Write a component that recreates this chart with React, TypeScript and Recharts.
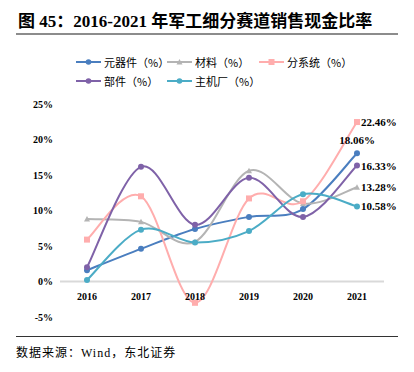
import React from "react";
import { LineChart, Line, XAxis, YAxis, ReferenceLine, LabelList } from "recharts";

const years = ["2016", "2017", "2018", "2019", "2020", "2021"];
const yTicks = [-5, 0, 5, 10, 15, 20, 25];

const components = [1.6, 4.6, 7.4, 9.1, 10.2, 18.06];
const materials = [8.8, 8.4, 5.6, 15.6, 11.0, 13.28];
const subsystems = [5.9, 12.0, -3.0, 11.7, 11.3, 22.46];
const parts = [2.0, 16.15, 8.0, 14.6, 9.1, 16.33];
const oems = [0.2, 7.3, 5.5, 7.1, 12.3, 10.58];

const series = [
  { key: "components", name: "元器件（%）", color: "#4a7ebf", shape: "circle", values: components, labelPos: "top" },
  { key: "materials", name: "材料（%）", color: "#b4b4b4", shape: "triangle", values: materials, labelPos: "right" },
  { key: "subsystems", name: "分系统（%）", color: "#ffadad", shape: "square", values: subsystems, labelPos: "right" },
  { key: "parts", name: "部件（%）", color: "#7f62a8", shape: "circle", values: parts, labelPos: "right" },
  { key: "oems", name: "主机厂（%）", color: "#4bacc6", shape: "circle", values: oems, labelPos: "right" },
];

const data = years.map((year, i) => {
  const row: Record<string, string | number> = { year };
  series.forEach((s) => {
    row[s.key] = s.values[i];
  });
  return row;
});

// excel style smoothed line (catmull-rom bezier)
const smooth = (context: any) => {
  let pts: [number, number][] = [];
  return {
    areaStart() {},
    areaEnd() {},
    lineStart() {
      pts = [];
    },
    lineEnd() {
      if (!pts.length) return;
      context.moveTo(pts[0][0], pts[0][1]);
      for (let i = 0; i < pts.length - 1; i++) {
        const p0 = pts[i - 1] || pts[i];
        const p1 = pts[i];
        const p2 = pts[i + 1];
        const p3 = pts[i + 2] || p2;
        context.bezierCurveTo(
          p1[0] + (p2[0] - p0[0]) / 6,
          p1[1] + (p2[1] - p0[1]) / 6,
          p2[0] - (p3[0] - p1[0]) / 6,
          p2[1] - (p3[1] - p1[1]) / 6,
          p2[0],
          p2[1]
        );
      }
    },
    point(x: number, y: number) {
      pts.push([x, y]);
    },
  };
};

const serif = '"Liberation Serif", "Noto Sans CJK SC", serif';
const cjk = '"Noto Sans CJK SC", "Liberation Serif", sans-serif';

const makeDot = (shape: string, color: string) => (props: any) => {
  const { cx, cy, index } = props;
  if (cx == null || cy == null) return <g key={index} />;
  if (shape === "square") {
    return <rect key={index} x={cx - 3} y={cy - 3} width={6} height={6} fill={color} />;
  }
  if (shape === "triangle") {
    return (
      <path key={index} d={`M${cx},${cy - 3}L${cx + 3},${cy + 2.5}L${cx - 3},${cy + 2.5}Z`} fill={color} />
    );
  }
  return <circle key={index} cx={cx} cy={cy} r={3} fill={color} />;
};

const lastLabel = (pos: string) => (props: any) => {
  const { x, y, value, index } = props;
  if (index !== years.length - 1) return null;
  const text = `${Number(value).toFixed(2)}%`;
  if (pos === "top") {
    return (
      <text x={x} y={y - 13} textAnchor="middle" dominantBaseline="central" fontFamily={serif} fontWeight="bold" fontSize={11} fill="#000">
        {text}
      </text>
    );
  }
  return (
    <text x={x + 4} y={y} textAnchor="start" dominantBaseline="central" fontFamily={serif} fontWeight="bold" fontSize={11} fill="#000">
      {text}
    </text>
  );
};

const YearTick = (props: any) => {
  const { x, payload } = props;
  return (
    <text x={x} y={300} textAnchor="middle" fontFamily={serif} fontWeight="bold" fontSize={10} fill="#000">
      {payload.value}
    </text>
  );
};

const legendRows = [series.slice(0, 3), series.slice(3)];
const legendCols = [76, 167, 259];

export default function App() {
  return (
    <div style={{ position: "absolute", left: 0, top: 0, width: 414, height: 372, background: "#fff" }}>
      <div
        style={{
          position: "absolute",
          left: 18,
          top: 11,
          fontFamily: serif,
          fontWeight: "bold",
          fontSize: 17,
          lineHeight: "22px",
          color: "#000",
          whiteSpace: "nowrap",
        }}
      >
        图 45：2016-2021 年军工细分赛道销售现金比率
      </div>
      <div style={{ position: "absolute", left: 16, top: 33, width: 382, height: 2, background: "#8c8c8c" }} />

      {legendRows.map((row, r) =>
        row.map((s, c) => (
          <div
            key={s.key}
            style={{
              position: "absolute",
              left: legendCols[c],
              top: r === 0 ? 54 : 73,
              height: 16,
              display: "flex",
              alignItems: "center",
              whiteSpace: "nowrap",
            }}
          >
            <svg width={25} height={8} style={{ marginRight: 3 }}>
              <line x1={0} y1={4} x2={25} y2={4} stroke={s.color} strokeWidth={2} />
              {s.shape === "square" ? (
                <rect x={9.5} y={1} width={6} height={6} fill={s.color} />
              ) : s.shape === "triangle" ? (
                <path d="M12.5,1L15.5,6.5L9.5,6.5Z" fill={s.color} />
              ) : (
                <circle cx={12.5} cy={4} r={2.8} fill={s.color} />
              )}
            </svg>
            <span style={{ fontFamily: cjk, fontSize: 11, color: "#000" }}>{s.name}</span>
          </div>
        ))
      )}

      <div style={{ position: "absolute", left: 0, top: 0 }}>
        <LineChart width={414} height={372} data={data} margin={{ top: 104, right: 30, bottom: 25, left: 8 }}>
          <XAxis
            dataKey="year"
            axisLine={false}
            tickLine={false}
            tick={<YearTick />}
            height={30}
            interval={0}
            padding={{ left: 27, right: 27 }}
          />
          <YAxis
            domain={[-5, 25]}
            ticks={yTicks}
            axisLine={false}
            tickLine={false}
            width={52}
            tickMargin={1}
            tickFormatter={(v) => `${v}%`}
            tick={{ fontFamily: serif, fontWeight: "bold", fontSize: 10, fill: "#000" }}
          />
          <ReferenceLine y={0} stroke="#d9d9d9" strokeWidth={2} />
          {series.map((s) => (
            <Line
              key={s.key}
              dataKey={s.key}
              name={s.name}
              type={smooth as any}
              stroke={s.color}
              strokeWidth={2}
              dot={makeDot(s.shape, s.color)}
              activeDot={false}
              isAnimationActive={false}
            >
              <LabelList dataKey={s.key} content={lastLabel(s.labelPos)} />
            </Line>
          ))}
        </LineChart>
      </div>

      <div style={{ position: "absolute", left: 16, top: 336, width: 382, height: 1, background: "#333" }} />
      <div
        style={{
          position: "absolute",
          left: 16,
          top: 344,
          fontFamily: cjk,
          fontSize: 12,
          lineHeight: "16px",
          color: "#000",
          letterSpacing: 1,
          whiteSpace: "nowrap",
        }}
      >
        数据来源：<span style={{ fontFamily: serif }}>Wind</span>，东北证券
      </div>
    </div>
  );
}
